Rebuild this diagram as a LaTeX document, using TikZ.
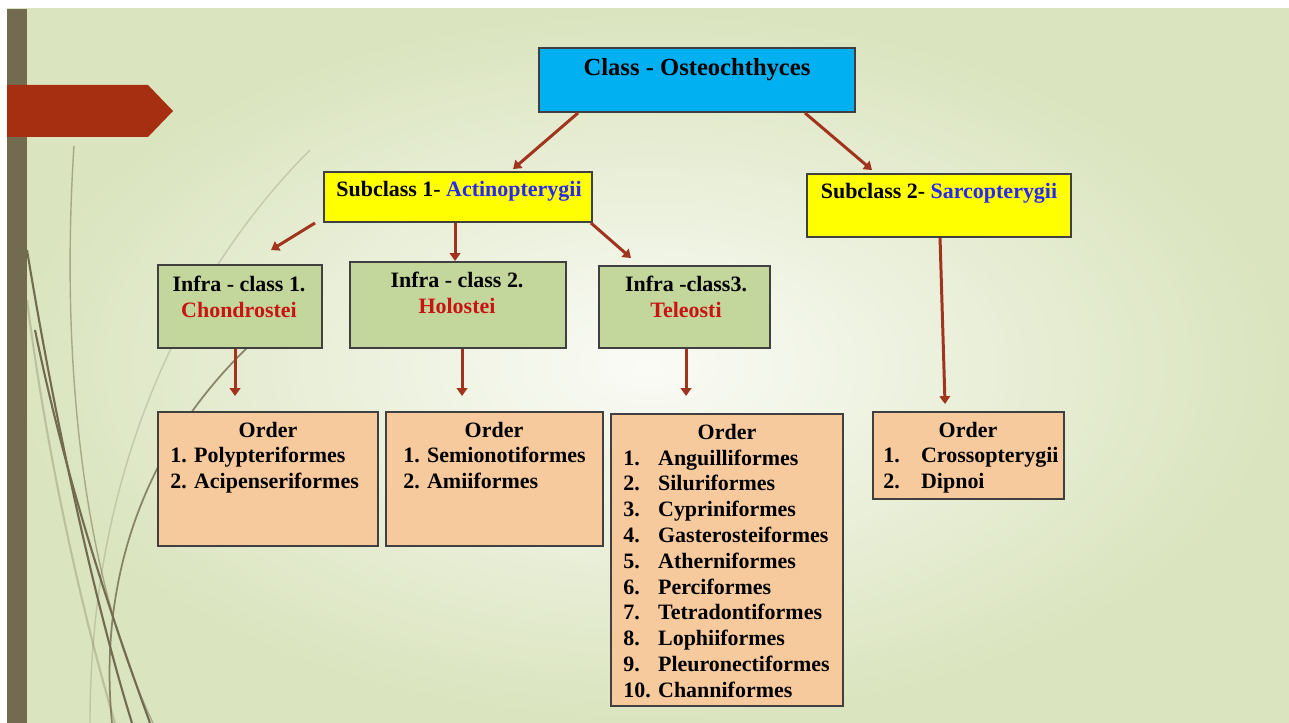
\documentclass[tikz,border=0pt]{standalone}
\usepackage{fontspec}
\setmainfont{Liberation Serif}
\usepackage{xcolor}
\usetikzlibrary{positioning,fit,calc,arrows.meta}
\definecolor{mycyan}{RGB}{0,176,240}
\definecolor{myyellow}{RGB}{255,255,0}
\definecolor{mygreen}{RGB}{195,214,155}
\definecolor{mypeach}{RGB}{247,202,158}
\definecolor{myblue}{RGB}{40,40,245}
\definecolor{myred}{RGB}{200,20,20}
\definecolor{myarrow}{RGB}{160,52,30}
\definecolor{mybar}{RGB}{115,107,80}
\definecolor{mybanner}{RGB}{165,47,16}
\definecolor{bgin}{RGB}{250,251,246}
\definecolor{bgout}{RGB}{218,228,190}

\begin{document}
\begin{tikzpicture}[x=0.02cm,y=-0.02cm,
          box/.style={draw=black!75,line width=1.1pt,inner sep=0pt},
          txt/.style={inner sep=0pt,font=\fontsize{12.5}{15}\selectfont\bfseries},
          arr/.style={draw=myarrow,line width=1.7pt,-{Triangle[length=4.5pt,width=6pt]}},
          curve/.style={draw=mybar,line width=1.2pt}
          ]
          % the slide
          \useasboundingbox (0,0) rectangle (1289,723);
          \fill[white] (0,0) rectangle (1289,723);
          \shade[inner color=bgin,outer color=bgout] (7,9) rectangle (1289,723);
          % the decorative curves
          \draw[curve,opacity=0.5,line width=0.8pt] (74,146) .. controls (62,330) and (75,560) .. (153,723);
          \draw[curve] (27,250) .. controls (60,450) and (100,620) .. (132,723);
          \draw[curve,opacity=0.3] (27,300) .. controls (50,480) and (90,640) .. (115,723);
          \draw[curve,opacity=0.25,line width=0.8pt] (310,150) .. controls (200,260) and (90,450) .. (90,723);
          \draw[curve,opacity=0.8,line width=1pt] (250,345) .. controls (130,460) and (100,600) .. (112,723);
          \draw[curve] (35,330) .. controls (70,500) and (120,640) .. (150,723);
          \fill[mybar] (7,9) rectangle (27,723);
          \fill[mybanner] (7,85) -- (148,85) -- (173,111) -- (148,137) -- (7,137) -- cycle;
          % the boxes
          \node[box,fill=mycyan,fit={(539,48) (855,112)}] (cls) {};
          \node[box,fill=myyellow,fit={(324,172) (592,222)}] (sub1) {};
          \node[box,fill=myyellow,fit={(807,174) (1071,237)}] (sub2) {};
          \node[box,fill=mygreen,fit={(158,265) (322,348)}] (inf1) {};
          \node[box,fill=mygreen,fit={(350,262) (566,348)}] (inf2) {};
          \node[box,fill=mygreen,fit={(599,266) (770,348)}] (inf3) {};
          \node[box,fill=mypeach,fit={(158,412) (378,546)}] (ord1) {};
          \node[box,fill=mypeach,fit={(386,412) (603,546)}] (ord2) {};
          \node[box,fill=mypeach,fit={(611,414) (843,706)}] (ord3) {};
          \node[box,fill=mypeach,fit={(873,412) (1064,499)}] (ord4) {};
          % the texts
          \node[txt,font=\fontsize{14}{17}\selectfont\bfseries,anchor=base] (clsT) at (697,76) {Class - Osteochthyces};
          \node[txt,anchor=base] (sub1T) at (459,196) {Subclass 1- \textcolor{myblue}{Actinopterygii}};
          \node[txt,anchor=base] (sub2T) at (939,198) {Subclass 2- \textcolor{myblue}{Sarcopterygii}};
          \node[txt,anchor=base] (inf1T) at (239,291) {Infra - class 1.};
          \node[txt,anchor=base,myred] (inf1N) at (239,317) {Chondrostei};
          \node[txt,anchor=base] (inf2T) at (457,287) {Infra - class 2.};
          \node[txt,anchor=base,myred] (inf2N) at (457,313) {Holostei};
          \node[txt,anchor=base] (inf3T) at (686,291) {Infra -class3.};
          \node[txt,anchor=base,myred] (inf3N) at (686,317) {Teleosti};
          % the orders
          \foreach \o/\xcoord in {1/268,2/494,4/968}
            \node[txt,anchor=base] (ord\o T) at (\xcoord,437) {Order};
          \node[txt,anchor=base] (ord3T) at (727,439) {Order};
          \foreach \i/\name in {1/Polypteriformes,2/Acipenseriformes}
            \node[txt,anchor=base west] (o1\i) at (170,{437+25.5*\i}) {\i. \name};
          \foreach \i/\name in {1/Semionotiformes,2/Amiiformes}
            \node[txt,anchor=base west] (o2\i) at (403,{437+25.5*\i}) {\i. \name};
          \foreach \i/\name in {1/Anguilliformes,2/Siluriformes,3/Cypriniformes,4/Gasterosteiformes,
              5/Atherniformes,6/Perciformes,7/Tetradontiformes,8/Lophiiformes,9/Pleuronectiformes,10/Channiformes}
            \node[txt,anchor=base west] (o3\i) at (623,{439.2+25.8*\i}) {\makebox[19.8pt][l]{\i.}\name};
          \foreach \i/\name in {1/Crossopterygii,2/Dipnoi}
            \node[txt,anchor=base west] (o4\i) at (883,{437+25.5*\i}) {\makebox[21.5pt][l]{\i.}\name};
          % the edges
          \draw[arr] ($(cls.south west)+(40,0)$) -- ($(sub1.north west)+(190,-2)$);
          \draw[arr] ($(cls.south east)+(-51,0)$) -- ($(sub2.north west)+(66,-3)$);
          \draw[arr] ($(sub1.south west)+(-8,0)$) -- ($(inf1.north west)+(114,-14)$);
          \draw[arr] ($(sub1.south west)+(132,0)$) -- ($(inf2.north west)+(106,0)$);
          \draw[arr] ($(sub1.south east)+(-2,0)$) -- ($(inf3.north west)+(33,-7)$);
          \draw[arr] ($(inf1.south west)+(78,0)$) -- ($(ord1.north west)+(78,-15)$);
          \draw[arr] ($(inf2.south west)+(113,0)$) -- ($(ord2.north west)+(77,-15)$);
          \draw[arr] ($(inf3.south west)+(88,0)$) -- ($(ord3.north west)+(76,-17)$);
          \draw[arr] ($(sub2.south west)+(134,0)$) -- ($(ord4.north west)+(73,-7)$);
        \end{tikzpicture}
\end{document}
